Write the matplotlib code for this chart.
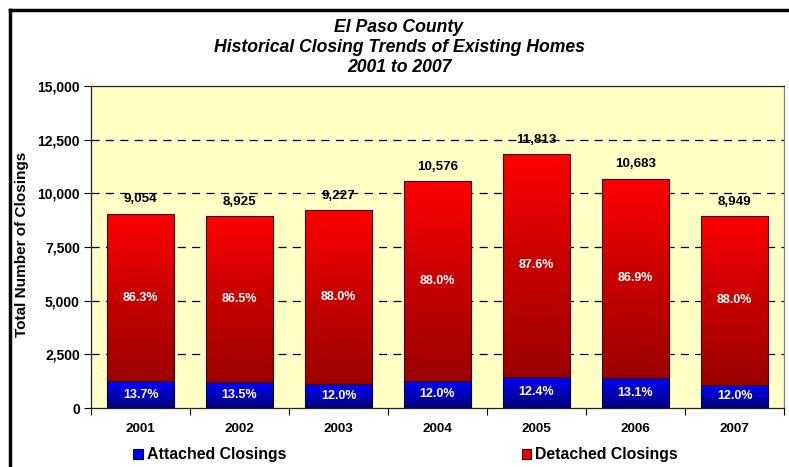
import numpy as np
import matplotlib
matplotlib.use("Agg")
import matplotlib.pyplot as plt
from matplotlib.colors import LinearSegmentedColormap
from matplotlib.patches import Patch
from matplotlib.lines import Line2D

plt.rcParams['font.family'] = ['Liberation Sans', 'DejaVu Sans']

years = ["2001", "2002", "2003", "2004", "2005", "2006", "2007"]
total_closings = [9054, 8925, 9227, 10576, 11813, 10683, 8949]
attached_pct = [13.7, 13.5, 12.0, 12.0, 12.4, 13.1, 12.0]
detached_pct = [86.3, 86.5, 88.0, 88.0, 87.6, 86.9, 88.0]
y_ticks = [0, 2500, 5000, 7500, 10000, 12500, 15000]
title_lines = ["El Paso County", "Historical Closing Trends of Existing Homes", "2001 to 2007"]

total = np.array(total_closings, dtype=float)
attached = total * np.array(attached_pct) / 100.0
detached = total - attached
x = np.arange(len(years))

W, H = 789, 467
fig = plt.figure(figsize=(W / 100, H / 100), dpi=100)
fig.patch.set_facecolor("white")
ax = fig.add_axes([91 / W, 1 - 408 / H, (784 - 91) / W, (408 - 86) / H])
ax.set_facecolor("#FFFFC6")

bar_w = 0.67
b_att = ax.bar(x, attached, width=bar_w, color="none", edgecolor="#000040", linewidth=0.8, zorder=3)
b_det = ax.bar(x, detached, bottom=attached, width=bar_w, color="none", edgecolor="#400000", linewidth=0.8, zorder=3)

red_cmap = LinearSegmentedColormap.from_list("reds", [(0.0, "#9C0000"), (0.55, "#CC0000"), (1.0, "#FF0000")])
blue_cmap = LinearSegmentedColormap.from_list("blues", ["#000078", "#0000FF"])
grad = np.linspace(0, 1, 256).reshape(-1, 1)


def fill_gradient(bars, cmap):
    for p in bars:
        x0, y0 = p.get_x(), p.get_y()
        x1, y1 = x0 + p.get_width(), y0 + p.get_height()
        im = ax.imshow(grad, extent=[x0, x1, y0, y1], origin="lower", aspect="auto",
                       cmap=cmap, zorder=2.5, interpolation="bilinear")
        im.set_clip_path(p)


fill_gradient(b_att, blue_cmap)
fill_gradient(b_det, red_cmap)

ax.set_xlim(-0.5, len(years) - 0.5)
ax.set_ylim(0, 15000)

# dashed gridlines
for t in y_ticks[1:-1]:
    ax.axhline(t, color="black", linestyle=(0, (6.5, 5)), linewidth=0.9, zorder=1)

ax.set_yticks(y_ticks)
ax.set_yticklabels([f"{v:,}" for v in y_ticks], fontsize=10, fontweight="bold")
ax.tick_params(axis="y", direction="out", length=5, width=0.8, pad=3)

ax.set_xticks(np.arange(len(years) + 1) - 0.5)
ax.set_xticklabels([])
ax.tick_params(axis="x", which="major", direction="out", length=5, width=0.8)
ax.set_xticks(x, minor=True)
ax.set_xticklabels(years, minor=True, fontsize=9.7, fontweight="bold")
ax.tick_params(axis="x", which="minor", length=0, pad=11)

for s in ["top", "left", "bottom"]:
    ax.spines[s].set_color("#202020")
    ax.spines[s].set_linewidth(0.9)
ax.spines["right"].set_color("#808080")
ax.spines["right"].set_linewidth(0.9)

ax.set_ylabel("Total Number of Closings", fontsize=11, fontweight="bold")
ax.yaxis.set_label_coords((29 - 91) / 693, (408 - 244) / 322)

for i in range(len(years)):
    ax.annotate(f"{total_closings[i]:,}", (x[i], total[i]), xytext=(0, 6), textcoords="offset points",
                ha="center", va="bottom", fontsize=9.6, fontweight="bold", zorder=5)
    ax.text(x[i], attached[i] + detached[i] / 2, f"{detached_pct[i]:.1f}%", ha="center", va="center",
            color="white", fontsize=9, fontweight="bold", zorder=5)
    ax.text(x[i], attached[i] / 2, f"{attached_pct[i]:.1f}%", ha="center", va="center",
            color="white", fontsize=9, fontweight="bold", zorder=5)

for k, line in enumerate(title_lines):
    fig.text(399 / W, 1 - (27 + 20.5 * k) / H, line, ha="center", va="center",
             fontsize=12.7, fontweight="bold", fontstyle="italic")

handles = [Patch(facecolor="#0000FF", edgecolor="#000040", linewidth=0.8),
           Patch(facecolor="#EE0000", edgecolor="#400000", linewidth=0.8)]
fig.legend(handles, ["Attached Closings", "Detached Closings"], ncol=2, loc="center",
           bbox_to_anchor=(405.5 / W, 1 - 455 / H), frameon=False,
           prop={"weight": "bold", "size": 11.4}, handlelength=0.62, handleheight=0.62,
           handletextpad=0.25, columnspacing=14.87)

# outer chart frame (left and top edges visible)
fig.add_artist(Line2D([9.5 / W, 9.5 / W], [0, 1 - 9.5 / H], color="black", linewidth=2.5,
                      transform=fig.transFigure))
fig.add_artist(Line2D([9.5 / W, 1], [1 - 9.5 / H, 1 - 9.5 / H], color="black", linewidth=2.5,
                      transform=fig.transFigure))

fig.savefig("out.png", dpi=100)
